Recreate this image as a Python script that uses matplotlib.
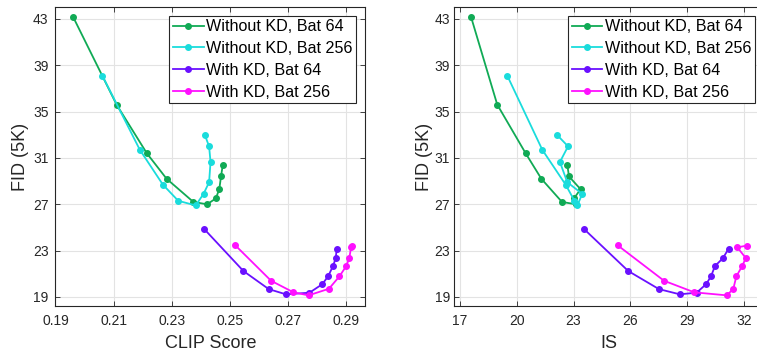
import matplotlib
matplotlib.use("Agg")
import matplotlib.pyplot as plt

plt.rcParams['font.family'] = ['Liberation Sans', 'DejaVu Sans']

# series values
green_clip = [0.196, 0.211, 0.2214, 0.2282, 0.2374, 0.2421, 0.2451, 0.2463, 0.2469, 0.2475]
green_is = [17.58, 18.97, 20.47, 21.30, 22.39, 23.13, 23.02, 23.37, 22.76, 22.67]
green_fid = [43.2, 35.6, 31.4, 29.2, 27.2, 27.0, 27.5, 28.3, 29.4, 30.4]

cyan_clip = [0.2061, 0.219, 0.2269, 0.2322, 0.2382, 0.2409, 0.2428, 0.2433, 0.2428, 0.2413]
cyan_is = [19.50, 21.35, 22.58, 23.05, 23.20, 23.46, 22.67, 22.28, 22.71, 22.12]
cyan_fid = [38.1, 31.7, 28.7, 27.3, 26.9, 27.9, 28.9, 30.65, 32.0, 33.0]

purple_clip = [0.2411, 0.2546, 0.2633, 0.2692, 0.2773, 0.2817, 0.2837, 0.2854, 0.2863, 0.2867]
purple_is = [23.55, 25.89, 27.51, 28.61, 29.50, 30.00, 30.26, 30.47, 30.88, 31.19]
purple_fid = [24.87, 21.24, 19.68, 19.23, 19.37, 20.10, 20.78, 21.67, 22.33, 23.16]

pink_clip = [0.2518, 0.2641, 0.2718, 0.2770, 0.2840, 0.2876, 0.2899, 0.2910, 0.2916, 0.2920]
pink_is = [25.33, 27.78, 29.38, 31.10, 31.44, 31.60, 31.90, 32.10, 31.65, 32.14]
pink_fid = [23.46, 20.40, 19.40, 19.14, 19.71, 20.78, 21.65, 22.36, 23.28, 23.43]

labels = ['Without KD, Bat 64', 'Without KD, Bat 256', 'With KD, Bat 64', 'With KD, Bat 256']
colors = ['#10AA55', '#1ADCDC', '#6A10FF', '#FF10FF']

clip_ticks = [0.19, 0.21, 0.23, 0.25, 0.27, 0.29]
clip_ticklabels = ['0.19', '0.21', '0.23', '0.25', '0.27', '0.29']
is_ticks = [17, 20, 23, 26, 29, 32]
fid_ticks = [19, 23, 27, 31, 35, 39, 43]

axis_col = '#262626'

fig = plt.figure(figsize=(7.57, 3.56), dpi=100)
ax1 = fig.add_axes([0.0733, 0.1404, 0.4089, 0.8391])
ax2 = fig.add_axes([0.6001, 0.1404, 0.4089, 0.8391])


def draw(ax, xs, ys):
    for x, y, c, lab in zip(xs, ys, colors, labels):
        ax.plot(x, y, '-o', color=c, lw=1.3, ms=4.0, label=lab)


def style(ax, ypad):
    ax.set_ylim(18.22, 44.0)
    ax.set_yticks(fid_ticks)
    ax.grid(True, color='#e3e3e3', lw=0.8)
    ax.set_axisbelow(True)
    for s in ax.spines.values():
        s.set_color(axis_col)
        s.set_linewidth(0.8)
    ax.tick_params(direction='in', length=3.5, width=0.6, colors=axis_col,
                   labelsize=10, top=True, right=True)
    ax.tick_params(axis='x', pad=6)
    ax.tick_params(axis='y', pad=ypad)
    ax.set_ylabel('FID (5K)', fontsize=13, color=axis_col)
    leg = ax.legend(loc='upper right', bbox_to_anchor=(0.971, 0.972), borderaxespad=0,
                    fontsize=11.6, labelspacing=0.42, handlelength=1.9, handletextpad=0.15,
                    borderpad=0.22, fancybox=False, framealpha=1)
    leg.get_frame().set_edgecolor(axis_col)
    leg.get_frame().set_linewidth(0.8)


draw(ax1, [green_clip, cyan_clip, purple_clip, pink_clip],
     [green_fid, cyan_fid, purple_fid, pink_fid])
ax1.set_xlim(0.19, 0.2964)
ax1.set_xticks(clip_ticks)
ax1.set_xticklabels(clip_ticklabels)
ax1.set_xlabel('CLIP Score', fontsize=13, color=axis_col, labelpad=5)
style(ax1, 5)
ax1.yaxis.set_label_coords(-0.085, 0.5)

draw(ax2, [green_is, cyan_is, purple_is, pink_is],
     [green_fid, cyan_fid, purple_fid, pink_fid])
ax2.set_xlim(16.7, 33.05)
ax2.set_xticks(is_ticks)
ax2.set_xlabel('IS', fontsize=13, color=axis_col, labelpad=5)
style(ax2, 3)
ax2.yaxis.set_label_coords(-0.07, 0.5)

fig.savefig('out.png', dpi=100)
